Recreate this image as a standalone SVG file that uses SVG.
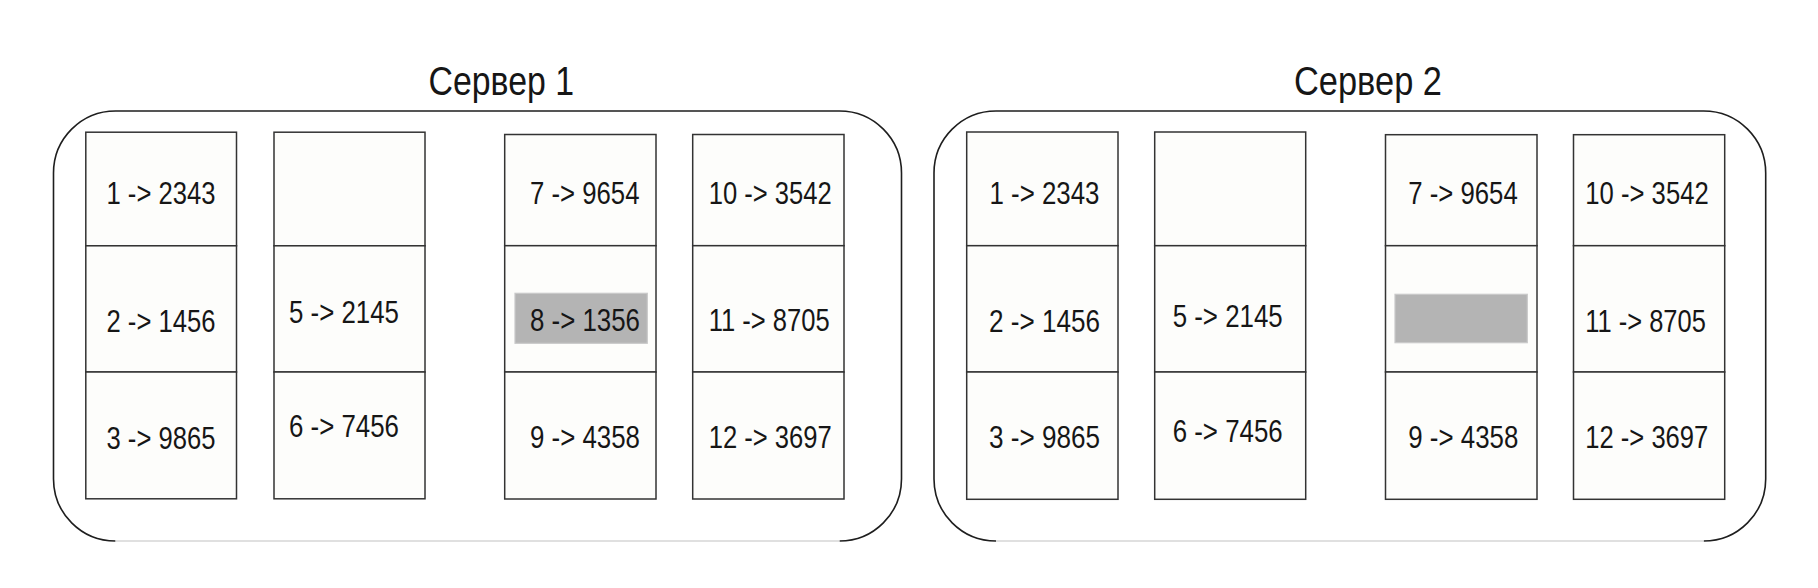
<svg xmlns="http://www.w3.org/2000/svg" width="1818" height="588" viewBox="0 0 1818 588">
<style>
.bg{fill:#ffffff}
.srv{fill:none;stroke:#1e1e1e;stroke-width:1.6}
.srvb{fill:none;stroke:#d6d6d6;stroke-width:1.6}
.cell{fill:#fdfdfb;stroke:#333333;stroke-width:1.5}
.hl{fill:#b4b4b4;stroke:#c9c9c9;stroke-width:1.2}
.t{font-family:"Liberation Sans Narrow","Liberation Sans",Arial,sans-serif;font-size:31px;fill:#161616}
.title{font-family:"Liberation Sans Narrow","Liberation Sans",Arial,sans-serif;font-size:41px;fill:#161616}
</style>
<rect class="bg" x="0" y="0" width="1818" height="588"/>

<g id="server1">
  <text class="title" x="428.5" y="95" textLength="145.5" lengthAdjust="spacingAndGlyphs">Сервер 1</text>
  <path class="srv" d="M115.5 541 A62 62 0 0 1 53.5 479 V173 A62 62 0 0 1 115.5 111 H839.5 A62 62 0 0 1 901.5 173 V479 A62 62 0 0 1 839.5 541"/>
  <path class="srvb" d="M115.5 541 H839.5"/>
</g>
<g id="s1-col1">
  <g id="s1-cell1"><rect class="cell" x="85.8" y="132.2" width="150.7" height="113.6"/><text class="t" x="106.5" y="204" textLength="109" lengthAdjust="spacingAndGlyphs">1 -&gt; 2343</text></g>
  <g id="s1-cell2"><rect class="cell" x="85.8" y="245.8" width="150.7" height="126.2"/><text class="t" x="106.5" y="331.5" textLength="109" lengthAdjust="spacingAndGlyphs">2 -&gt; 1456</text></g>
  <g id="s1-cell3"><rect class="cell" x="85.8" y="372" width="150.7" height="126.8"/><text class="t" x="106.5" y="448.5" textLength="109" lengthAdjust="spacingAndGlyphs">3 -&gt; 9865</text></g>
</g>
<g id="s1-col2">
  <g id="s1-cell4"><rect class="cell" x="274" y="132.2" width="151" height="113.6"/></g>
  <g id="s1-cell5"><rect class="cell" x="274" y="245.8" width="151" height="126.2"/><text class="t" x="289" y="322.7" textLength="110" lengthAdjust="spacingAndGlyphs">5 -&gt; 2145</text></g>
  <g id="s1-cell6"><rect class="cell" x="274" y="372" width="151" height="126.8"/><text class="t" x="289" y="437.3" textLength="110" lengthAdjust="spacingAndGlyphs">6 -&gt; 7456</text></g>
</g>
<g id="s1-col3">
  <g id="s1-cell7"><rect class="cell" x="504.7" y="134.5" width="151.3" height="111.2"/><text class="t" x="530" y="204" textLength="109.5" lengthAdjust="spacingAndGlyphs">7 -&gt; 9654</text></g>
  <g id="s1-cell8"><rect class="cell" x="504.7" y="245.7" width="151.3" height="126.3"/><rect class="hl" x="515" y="293.3" width="132.3" height="50"/><text class="t" x="530" y="330.7" textLength="110" lengthAdjust="spacingAndGlyphs">8 -&gt; 1356</text></g>
  <g id="s1-cell9"><rect class="cell" x="504.7" y="372" width="151.3" height="127"/><text class="t" x="530" y="448.3" textLength="110" lengthAdjust="spacingAndGlyphs">9 -&gt; 4358</text></g>
</g>
<g id="s1-col4">
  <g id="s1-cell10"><rect class="cell" x="692.7" y="134.5" width="151.3" height="111.2"/><text class="t" x="708.7" y="204" textLength="123" lengthAdjust="spacingAndGlyphs">10 -&gt; 3542</text></g>
  <g id="s1-cell11"><rect class="cell" x="692.7" y="245.7" width="151.3" height="126.3"/><text class="t" x="708.7" y="330.7" textLength="121" lengthAdjust="spacingAndGlyphs">11 -&gt; 8705</text></g>
  <g id="s1-cell12"><rect class="cell" x="692.7" y="372" width="151.3" height="127"/><text class="t" x="708.7" y="448.3" textLength="123" lengthAdjust="spacingAndGlyphs">12 -&gt; 3697</text></g>
</g>

<g id="server2">
  <text class="title" x="1294" y="95" textLength="148" lengthAdjust="spacingAndGlyphs">Сервер 2</text>
  <path class="srv" d="M996 541 A62 62 0 0 1 934 479 V173 A62 62 0 0 1 996 111 H1703.7 A62 62 0 0 1 1765.7 173 V479 A62 62 0 0 1 1703.7 541"/>
  <path class="srvb" d="M996 541 H1703.7"/>
</g>
<g id="s2-col1">
  <g id="s2-cell1"><rect class="cell" x="966.7" y="132" width="151.3" height="113.7"/><text class="t" x="989.5" y="204" textLength="110" lengthAdjust="spacingAndGlyphs">1 -&gt; 2343</text></g>
  <g id="s2-cell2"><rect class="cell" x="966.7" y="245.7" width="151.3" height="126.3"/><text class="t" x="989" y="331.7" textLength="111" lengthAdjust="spacingAndGlyphs">2 -&gt; 1456</text></g>
  <g id="s2-cell3"><rect class="cell" x="966.7" y="372" width="151.3" height="127.3"/><text class="t" x="989" y="448.3" textLength="111" lengthAdjust="spacingAndGlyphs">3 -&gt; 9865</text></g>
</g>
<g id="s2-col2">
  <g id="s2-cell4"><rect class="cell" x="1154.7" y="132" width="151" height="113.7"/></g>
  <g id="s2-cell5"><rect class="cell" x="1154.7" y="245.7" width="151" height="126.3"/><text class="t" x="1172.7" y="326.7" textLength="110" lengthAdjust="spacingAndGlyphs">5 -&gt; 2145</text></g>
  <g id="s2-cell6"><rect class="cell" x="1154.7" y="372" width="151" height="127.3"/><text class="t" x="1172.7" y="441.7" textLength="110" lengthAdjust="spacingAndGlyphs">6 -&gt; 7456</text></g>
</g>
<g id="s2-col3">
  <g id="s2-cell7"><rect class="cell" x="1385.5" y="134.7" width="151.5" height="111"/><text class="t" x="1408.3" y="204" textLength="109.4" lengthAdjust="spacingAndGlyphs">7 -&gt; 9654</text></g>
  <g id="s2-cell8"><rect class="cell" x="1385.5" y="245.7" width="151.5" height="126.3"/><rect class="hl" x="1395" y="294.3" width="132.3" height="48.4"/></g>
  <g id="s2-cell9"><rect class="cell" x="1385.5" y="372" width="151.5" height="127.3"/><text class="t" x="1408.3" y="448.3" textLength="110" lengthAdjust="spacingAndGlyphs">9 -&gt; 4358</text></g>
</g>
<g id="s2-col4">
  <g id="s2-cell10"><rect class="cell" x="1573.5" y="134.7" width="151.2" height="111"/><text class="t" x="1585.3" y="204" textLength="123.4" lengthAdjust="spacingAndGlyphs">10 -&gt; 3542</text></g>
  <g id="s2-cell11"><rect class="cell" x="1573.5" y="245.7" width="151.2" height="126.3"/><text class="t" x="1585.3" y="331.7" textLength="120.5" lengthAdjust="spacingAndGlyphs">11 -&gt; 8705</text></g>
  <g id="s2-cell12"><rect class="cell" x="1573.5" y="372" width="151.2" height="127.3"/><text class="t" x="1585.3" y="448.3" textLength="123" lengthAdjust="spacingAndGlyphs">12 -&gt; 3697</text></g>
</g>

<g id="connectors"></g>
</svg>
